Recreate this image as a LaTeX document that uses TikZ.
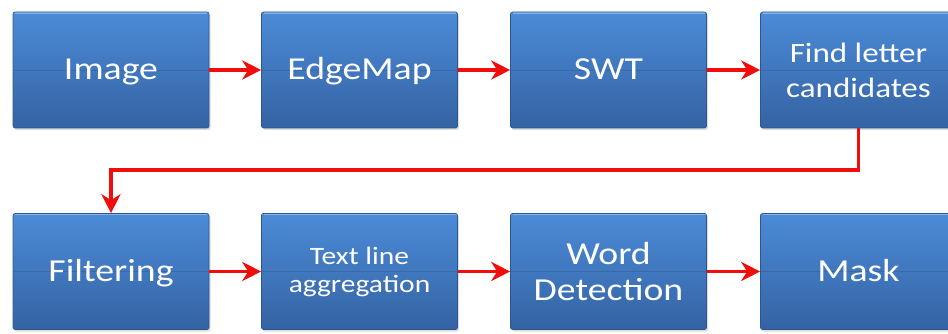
\documentclass[tikz,border=0pt]{standalone}
\usepackage{fontspec}
\setmainfont{Carlito}[FakeStretch=1.18]
\usetikzlibrary{arrows.meta,shadows,calc}

\definecolor{boxtop}{HTML}{4C8BD8}
\definecolor{boxbot}{HTML}{3463A3}
\definecolor{boxedge}{HTML}{2D5690}
\definecolor{flowred}{HTML}{F20D0D}
\definecolor{midline}{HTML}{33609C}

% single-line label with its cap height centred in the box
\newcommand{\oneline}[1]{\raisebox{-10pt}[0pt][0pt]{#1}}

\tikzset{
  stage/.style={
    rectangle, rounded corners=2pt,
    minimum width=196pt, minimum height=116pt,
    top color=boxtop, bottom color=boxbot,
    draw=boxedge, line width=0.6pt,
    text=white, align=center, inner sep=0pt,
    drop shadow={shadow xshift=1.5pt, shadow yshift=-2pt, fill=black!30, opacity=0.45},
    path picture={
      \draw[midline, line width=0.8pt, opacity=0.6]
        (path picture bounding box.west) -- (path picture bounding box.east);
      \draw[white, opacity=0.35, line width=1.5pt]
        ($(path picture bounding box.north west)+(2pt,-1pt)$) -- ($(path picture bounding box.north east)+(-2pt,-1pt)$);
    }
  },
  big/.style={font=\fontsize{32}{36}\selectfont},
  mid/.style={font=\fontsize{28}{35}\selectfont},
  small/.style={font=\fontsize{25}{28}\selectfont},
  flow/.style={draw=flowred, line width=3.6pt,
    -{Stealth[length=19pt, width=19pt, inset=6pt]}},
}

\begin{document}
\begin{tikzpicture}[x=1pt, y=-1pt]
  \useasboundingbox (0,0) rectangle (948,334);

  % top row
  \node[stage, big] (img)  at (111,70)   {\oneline{Image}};
  \node[stage, big] (edge) at (359.5,70) {\oneline{EdgeMap}};
  \node[stage, big] (swt)  at (608.5,70) {\oneline{SWT}};
  \node[stage, mid] (cand) at (858.5,70) {Find letter\\candidates};

  % bottom row
  \node[stage, big]   (filt) at (111,271.5)   {\oneline{Filtering}};
  \node[stage, small] (agg)  at (359.5,271.5) {Text line\\aggregation};
  \node[stage, font=\fontsize{32}{36}\selectfont] (word) at (608.5,271.5) {Word\\Detection};
  \node[stage, big]   (mask) at (858.5,271.5) {\oneline{Mask}};

  % connectors
  \draw[flow] (img)  -- (edge);
  \draw[flow] (edge) -- (swt);
  \draw[flow] (swt)  -- (cand);
  \draw[flow] (cand.south) -- ++(0,42) -| (filt.north);
  \draw[flow] (filt) -- (agg);
  \draw[flow] (agg)  -- (word);
  \draw[flow] (word) -- (mask);
\end{tikzpicture}
\end{document}
